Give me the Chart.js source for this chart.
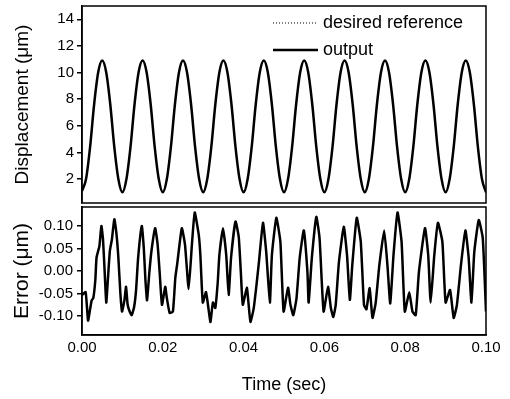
<!DOCTYPE html>
<html>
<head>
<meta charset="utf-8">
<script src="https://cdn.jsdelivr.net/npm/chart.js@4"></script>
<style>
html, body { margin: 0; padding: 0; background: #fff; }
#wrap { position: relative; width: 510px; height: 399px; }
#top { position: absolute; left: 0; top: 0; }
#bot { position: absolute; left: 0; top: 205px; }
</style>
</head>
<body>
<div id="wrap">
  <canvas id="top" width="510" height="205"></canvas>
  <canvas id="bot" width="510" height="194"></canvas>
</div>
<script>
// tick labels
var timeTicks = [0, 0.02, 0.04, 0.06, 0.08, 0.10];
var dispTicks = [2, 4, 6, 8, 10, 12, 14];
var errTicks = [-0.10, -0.05, 0.00, 0.05, 0.10];

// displacement (um), one value every 1 ms from 0 to 0.1 s
var dispRef = [
  1.1, 2.0, 4.4, 7.6, 10.0, 10.9, 10.0, 7.6, 4.4, 2.0,
  1.1, 2.0, 4.4, 7.6, 10.0, 10.9, 10.0, 7.6, 4.4, 2.0,
  1.1, 2.0, 4.4, 7.6, 10.0, 10.9, 10.0, 7.6, 4.4, 2.0,
  1.1, 2.0, 4.4, 7.6, 10.0, 10.9, 10.0, 7.6, 4.4, 2.0,
  1.1, 2.0, 4.4, 7.6, 10.0, 10.9, 10.0, 7.6, 4.4, 2.0,
  1.1, 2.0, 4.4, 7.6, 10.0, 10.9, 10.0, 7.6, 4.4, 2.0,
  1.1, 2.0, 4.4, 7.6, 10.0, 10.9, 10.0, 7.6, 4.4, 2.0,
  1.1, 2.0, 4.4, 7.6, 10.0, 10.9, 10.0, 7.6, 4.4, 2.0,
  1.1, 2.0, 4.4, 7.6, 10.0, 10.9, 10.0, 7.6, 4.4, 2.0,
  1.1, 2.0, 4.4, 7.6, 10.0, 10.9, 10.0, 7.6, 4.4, 2.0,
  1.1
];
var dispOut = [
  1.1, 2.0, 4.4, 7.6, 10.0, 10.9, 10.0, 7.6, 4.4, 2.0,
  1.0, 2.0, 4.4, 7.6, 10.0, 10.9, 10.0, 7.6, 4.4, 2.0,
  1.0, 2.0, 4.4, 7.6, 10.0, 10.9, 10.0, 7.6, 4.4, 2.0,
  1.0, 2.0, 4.4, 7.6, 10.0, 10.9, 10.0, 7.6, 4.4, 2.0,
  1.0, 2.0, 4.4, 7.6, 10.0, 10.9, 10.0, 7.6, 4.4, 2.0,
  1.0, 2.0, 4.4, 7.6, 10.0, 10.9, 10.0, 7.6, 4.4, 2.0,
  1.0, 2.0, 4.4, 7.6, 10.0, 10.9, 10.0, 7.6, 4.4, 2.0,
  1.0, 2.0, 4.4, 7.6, 10.0, 10.9, 10.0, 7.6, 4.4, 2.0,
  1.0, 2.0, 4.4, 7.6, 10.0, 10.9, 10.0, 7.6, 4.4, 2.0,
  1.0, 2.0, 4.4, 7.6, 10.0, 10.9, 10.0, 7.6, 4.4, 2.0,
  1.0
];

// error: time (ms) and value (um)
var errT = [
  0.0, 0.9, 1.5, 2.0, 2.4, 2.8, 3.3, 3.6, 4.3, 4.8, 5.2, 5.6, 6.0, 6.4, 6.9, 7.4, 8.0, 8.5, 9.0, 9.5, 9.9,
  10.5, 10.9, 11.3, 11.8, 12.3, 12.9, 13.4, 13.9, 14.8, 15.3, 15.7, 16.1, 16.7, 17.2, 18.1, 18.7, 19.2, 19.8,
  20.6, 21.0, 21.7, 22.5, 23.1, 23.6, 24.7, 25.5, 26.4, 27.2, 27.9, 28.9, 29.3, 29.9,
  30.7, 31.4, 31.8, 32.4, 33.0, 33.6, 34.0, 34.9, 35.7, 36.3, 36.9, 38.0, 38.8, 39.3, 39.8,
  40.8, 41.2, 41.7, 42.5, 43.2, 43.8, 44.8, 45.6, 46.5, 47.0, 48.1, 49.1, 49.9,
  51.0, 51.6, 52.3, 53.1, 53.9, 54.9, 55.8, 56.1, 56.9, 58.0, 58.8, 59.8,
  60.9, 61.6, 62.2, 62.8, 63.6, 64.8, 65.6, 66.3, 66.9, 68.0, 69.0, 69.8,
  70.4, 71.2, 71.9, 72.7, 73.6, 74.8, 75.6, 76.3, 77.1, 78.1, 79.1, 79.9,
  81.0, 81.8, 82.6, 83.4, 84.9, 85.7, 86.3, 87.2, 88.1, 89.2, 90.0,
  91.1, 92.0, 92.8, 93.8, 94.9, 95.7, 96.4, 97.1, 98.2, 99.2, 100.0
];
var errV = [
  -0.053, -0.047, -0.110, -0.085, -0.065, -0.060, -0.020, 0.030, 0.055, 0.100, 0.070, 0.000, -0.070, -0.020, 0.045, 0.070, 0.115, 0.085, 0.030, -0.050, -0.090,
  -0.065, -0.035, -0.075, -0.090, -0.098, -0.080, -0.040, 0.030, 0.100, 0.050, -0.020, -0.065, 0.000, 0.045, 0.095, 0.060, 0.000, -0.075,
  -0.035, -0.060, -0.093, -0.090, -0.015, 0.018, 0.095, 0.058, -0.040, 0.058, 0.130, 0.080, 0.035, -0.070,
  -0.047, -0.090, -0.113, -0.070, -0.082, -0.025, 0.035, 0.095, 0.035, -0.053, 0.030, 0.110, 0.075, 0.000, -0.075,
  -0.037, -0.070, -0.113, -0.083, -0.030, 0.020, 0.107, 0.042, -0.070, 0.035, 0.118, 0.065, -0.090,
  -0.037, -0.075, -0.098, -0.060, 0.030, 0.090, -0.002, -0.070, 0.030, 0.120, 0.073, -0.090,
  -0.035, -0.082, -0.102, -0.075, 0.020, 0.098, 0.035, -0.064, 0.013, 0.118, 0.065, -0.075,
  -0.085, -0.038, -0.104, -0.070, 0.013, 0.090, 0.013, -0.072, 0.035, 0.130, 0.065, -0.090,
  -0.047, -0.090, -0.098, -0.002, 0.095, 0.035, -0.070, 0.035, 0.107, 0.065, -0.070,
  -0.042, -0.104, -0.075, 0.013, 0.090, 0.030, -0.070, 0.042, 0.113, 0.073, -0.090
];

var fam = "'Liberation Sans', Arial, sans-serif";

function dispPoints(vals) {
  return vals.map(function (v, i) { return { x: i / 1000, y: v }; });
}
var errPoints = errT.map(function (t, i) { return { x: t / 1000, y: errV[i] }; });

// fixed axis width, no extra padding from the tick labels
function fixY(s) { s.width = 82; s.paddingTop = 0; s.paddingBottom = 0; }

// box around the plot area
var frame = {
  id: 'frame',
  afterDraw: function (c) {
    var a = c.chartArea, ctx = c.ctx;
    ctx.save();
    ctx.strokeStyle = '#000';
    ctx.lineWidth = 1.5;
    ctx.strokeRect(a.left, a.top, a.right - a.left, a.bottom - a.top);
    ctx.restore();
  }
};

// legend drawn inside the top panel
var insideLegend = {
  id: 'insideLegend',
  afterDraw: function (c) {
    var ctx = c.ctx;
    var rows = [23, 50];
    ctx.save();
    c.data.datasets.forEach(function (ds, i) {
      var y = rows[i];
      ctx.strokeStyle = '#000';
      ctx.lineWidth = ds.borderWidth;
      ctx.setLineDash(ds.borderDash || []);
      ctx.beginPath();
      ctx.moveTo(273, y);
      ctx.lineTo(318, y);
      ctx.stroke();
      ctx.setLineDash([]);
      ctx.fillStyle = '#000';
      ctx.font = '18px ' + fam;
      ctx.textBaseline = 'middle';
      ctx.fillText(ds.label, 323, y);
    });
    ctx.restore();
  }
};

var tickFont = { family: fam, size: 15 };

new Chart(document.getElementById('top'), {
  type: 'line',
  data: {
    datasets: [{
      label: 'desired reference',
      data: dispPoints(dispRef),
      borderColor: '#000',
      borderWidth: 1,
      borderDash: [1, 2],
      pointRadius: 0,
      cubicInterpolationMode: 'monotone'
    }, {
      label: 'output',
      data: dispPoints(dispOut),
      borderColor: '#000',
      borderWidth: 2.5,
      pointRadius: 0,
      cubicInterpolationMode: 'monotone'
    }]
  },
  options: {
    responsive: false,
    animation: false,
    devicePixelRatio: 1,
    layout: { padding: { left: 0, right: 24, top: 6, bottom: 2 } },
    plugins: { legend: { display: false }, tooltip: { enabled: false } },
    scales: {
      x: { type: 'linear', min: 0, max: 0.1, display: false },
      y: {
        min: 0.2, max: 15,
        afterFit: fixY,
        afterBuildTicks: function (s) { s.ticks = dispTicks.map(function (v) { return { value: v }; }); },
        ticks: { font: tickFont, color: '#000', padding: 3 },
        grid: { drawOnChartArea: false, tickLength: 5, color: '#000', lineWidth: 1.5 },
        border: { color: '#000', width: 1.5 },
        title: { display: true, text: 'Displacement (μm)', color: '#000', font: { family: fam, size: 19 }, padding: { top: 11, bottom: 0 } }
      }
    }
  },
  plugins: [frame, insideLegend]
});

new Chart(document.getElementById('bot'), {
  type: 'line',
  data: {
    datasets: [{
      label: 'error',
      data: errPoints,
      borderColor: '#000',
      borderWidth: 2.5,
      borderJoinStyle: 'round',
      pointRadius: 0,
      tension: 0.15
    }]
  },
  options: {
    responsive: false,
    animation: false,
    devicePixelRatio: 1,
    layout: { padding: { left: 0, right: 24, top: 2, bottom: 0 } },
    plugins: { legend: { display: false }, tooltip: { enabled: false } },
    scales: {
      x: {
        type: 'linear', min: 0, max: 0.1,
        afterFit: function (s) { s.height = 64; },
        afterBuildTicks: function (s) { s.ticks = timeTicks.map(function (v) { return { value: v }; }); },
        ticks: { font: tickFont, color: '#000', padding: 4, maxRotation: 0, callback: function (v) { return v.toFixed(2); } },
        grid: { display: false, drawTicks: false },
        border: { color: '#000', width: 1.5 },
        title: { display: true, text: 'Time (sec)', color: '#000', font: { family: fam, size: 18 }, padding: { top: 0, bottom: 3 } }
      },
      y: {
        min: -0.142, max: 0.142,
        afterFit: fixY,
        afterBuildTicks: function (s) { s.ticks = errTicks.map(function (v) { return { value: v }; }); },
        ticks: { font: tickFont, color: '#000', padding: 4, callback: function (v) { return v.toFixed(2); } },
        grid: { drawOnChartArea: false, tickLength: 5, color: '#000', lineWidth: 1.5 },
        border: { color: '#000', width: 1.5 },
        title: { display: true, text: 'Error (μm)', color: '#000', font: { family: fam, size: 21 }, padding: { top: 10, bottom: 0 } }
      }
    }
  },
  plugins: [frame]
});
</script>
</body>
</html>
